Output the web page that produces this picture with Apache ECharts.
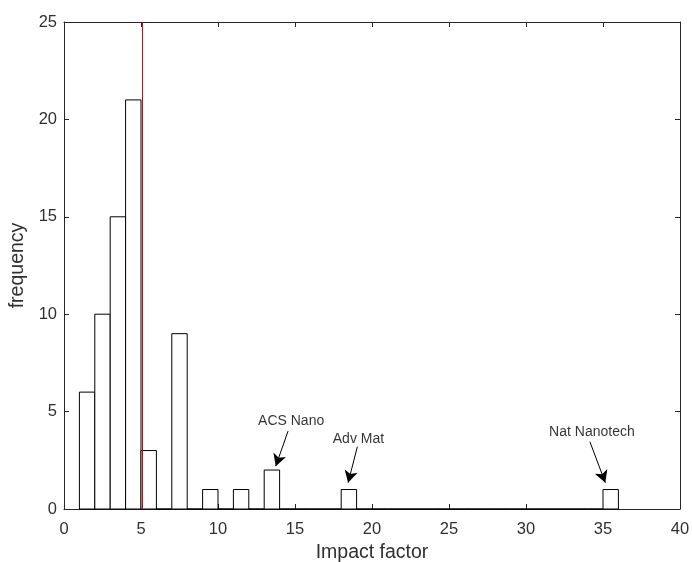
<!DOCTYPE html>
<html>
<head>
<meta charset="utf-8">
<script src="https://cdn.jsdelivr.net/npm/echarts@6/dist/echarts.min.js"></script>
<style>html,body{margin:0;padding:0;background:#fff;overflow:hidden;}#c{width:692px;height:562px;}</style>
</head>
<body>
<div id="c"></div>
<script>
// Histogram bins: left edge of first bin, bin width, counts per bin
var binStart = 1;
var binWidth = 1;
var counts = [6, 10, 15, 21, 3, 0, 9, 0, 1, 0, 1, 0, 2, 0, 0, 0, 0, 1, 0, 0,
              0, 0, 0, 0, 0, 0, 0, 0, 0, 0, 0, 0, 0, 0, 1];
// Vertical reference line
var refLineX = 5.07;
// Annotations: text, text position, arrow start, arrow tip
var annotTexts = ['ACS Nano', 'Adv Mat', 'Nat Nanotech'];
var annotTextPos = [[14.75, 4.5], [19.12, 3.6], [34.28, 3.92]];
var arrowFrom = [[14.55, 4.0], [19.05, 3.2], [34.15, 3.45]];
var arrowTo = [[13.75, 2.2], [18.45, 1.35], [35.15, 1.35]];
// Axis tick labels
var xTicks = [0, 5, 10, 15, 20, 25, 30, 35, 40];
var yTicks = [0, 5, 10, 15, 20, 25];

var binData = counts.map(function (c, i) {
  return [binStart + i * binWidth, binStart + (i + 1) * binWidth, c];
});

var axisCol = '#262626';
var textCol = '#303030';
var font = 'Liberation Sans, Arial, Helvetica, sans-serif';

var chart = echarts.init(document.getElementById('c'), null, { width: 692, height: 562 });
function axisBase(ticks) {
  return {
    type: 'value',
    min: ticks[0], max: ticks[ticks.length - 1], interval: 5,
    axisLine: { show: true, onZero: false, lineStyle: { color: axisCol, width: 1 } },
    axisTick: { show: true, inside: true, length: 5, lineStyle: { color: axisCol } },
    splitLine: { show: false }
  };
}

chart.setOption({
  animation: false,
  backgroundColor: '#fff',
  grid: { left: 64, top: 22, right: 12, bottom: 53, containLabel: false, outerBoundsMode: 'none' },
  xAxis: [
    Object.assign(axisBase(xTicks), {
      position: 'bottom',
      name: 'Impact factor', nameLocation: 'middle', nameGap: 31,
      nameTextStyle: { color: textCol, fontSize: 19.5, fontFamily: font },
      axisLabel: { color: textCol, fontSize: 16.5, fontFamily: font, margin: 12 }
    }),
    Object.assign(axisBase(xTicks), {
      position: 'top', axisLabel: { show: false }
    })
  ],
  yAxis: [
    Object.assign(axisBase(yTicks), {
      position: 'left',
      name: 'frequency', nameLocation: 'middle', nameGap: 26,
      nameTextStyle: { color: textCol, fontSize: 19.5, fontFamily: font },
      axisLabel: { color: textCol, fontSize: 16.5, fontFamily: font, margin: 7 }
    }),
    Object.assign(axisBase(yTicks), {
      position: 'right', axisLabel: { show: false }
    })
  ],
  series: [
    {
      type: 'custom',
      xAxisIndex: 0, yAxisIndex: 0,
      data: binData,
      renderItem: function (params, api) {
        var p0 = api.coord([api.value(0), api.value(2)]);
        var p1 = api.coord([api.value(1), 0]);
        return {
          type: 'rect',
          shape: { x: p0[0], y: p0[1], width: p1[0] - p0[0], height: p1[1] - p0[1] },
          style: { fill: '#fff', stroke: '#000', lineWidth: 1 }
        };
      },
      markLine: {
        silent: true,
        symbol: ['none', 'none'],
        label: { show: false },
        lineStyle: { color: '#e00000', width: 1, type: 'solid' },
        data: [{ xAxis: refLineX }]
      },
      z: 2
    },
    {
      type: 'line',
      xAxisIndex: 0, yAxisIndex: 0,
      data: [],
      markLine: {
        silent: true,
        symbol: ['none', 'arrow'],
        symbolSize: [10, 12],
        label: { show: false },
        lineStyle: { color: '#000', width: 1, type: 'solid' },
        itemStyle: { color: '#000' },
        data: arrowFrom.map(function (f, i) {
          return [{ coord: f }, { coord: arrowTo[i] }];
        })
      },
      z: 3
    },
    {
      type: 'scatter',
      xAxisIndex: 0, yAxisIndex: 0,
      symbol: 'circle',
      symbolSize: 0,
      itemStyle: { color: 'rgba(0,0,0,0)' },
      silent: true,
      data: annotTextPos.map(function (p, i) { return { value: p, name: annotTexts[i] }; }),
      label: {
        show: true, position: 'inside',
        formatter: function (p) { return p.name; },
        color: '#000', fontSize: 14, fontFamily: font
      },
      z: 4
    }
  ]
});
</script>
</body>
</html>
